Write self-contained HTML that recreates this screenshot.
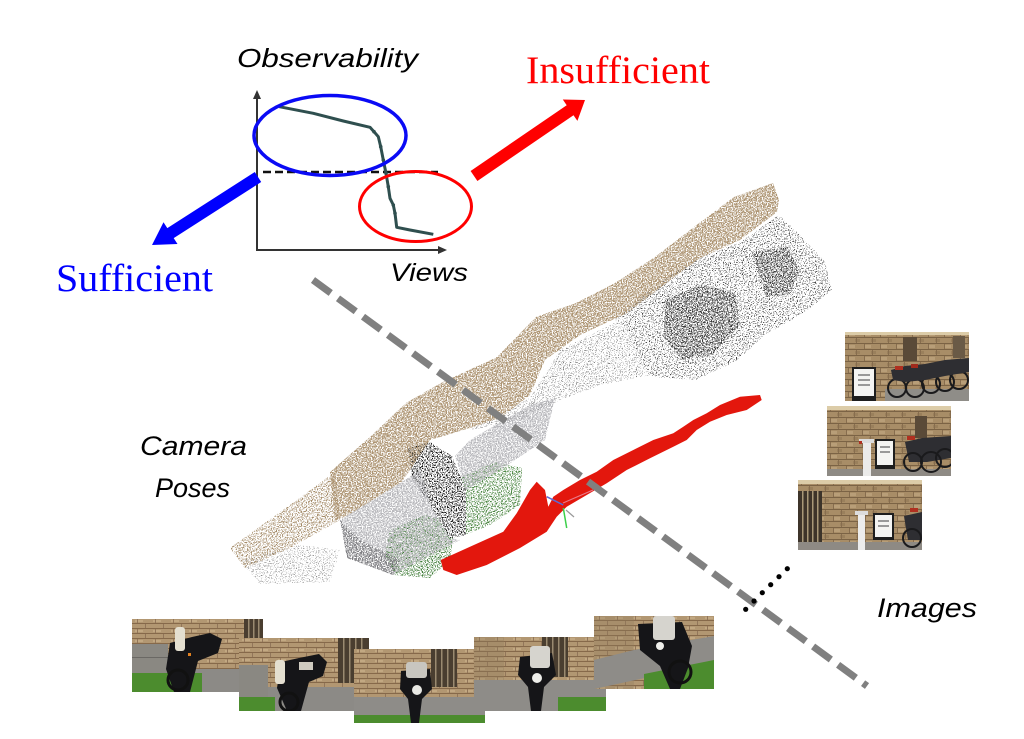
<!DOCTYPE html>
<html><head><meta charset="utf-8"><style>html,body{margin:0;padding:0;background:#fff;}svg{display:block}</style></head>
<body>
<svg width="1024" height="739" viewBox="0 0 1024 739" xmlns="http://www.w3.org/2000/svg">
<defs>
<filter id="dense" filterUnits="userSpaceOnUse" x="0" y="0" width="1024" height="739" color-interpolation-filters="sRGB">
<feTurbulence type="fractalNoise" baseFrequency="0.8" numOctaves="2" seed="4" result="n"/>
<feColorMatrix in="n" type="matrix" values="0 0 0 0 0 0 0 0 0 0 0 0 0 0 0 9 0 0 0 -3.8" result="a"/>
<feComposite in="SourceGraphic" in2="a" operator="in"/>
</filter>
<filter id="medium" filterUnits="userSpaceOnUse" x="0" y="0" width="1024" height="739" color-interpolation-filters="sRGB">
<feTurbulence type="fractalNoise" baseFrequency="0.8" numOctaves="2" seed="9" result="n"/>
<feColorMatrix in="n" type="matrix" values="0 0 0 0 0 0 0 0 0 0 0 0 0 0 0 9 0 0 0 -4.5" result="a"/>
<feComposite in="SourceGraphic" in2="a" operator="in"/>
</filter>
<filter id="sparse" filterUnits="userSpaceOnUse" x="0" y="0" width="1024" height="739" color-interpolation-filters="sRGB">
<feTurbulence type="fractalNoise" baseFrequency="0.85" numOctaves="2" seed="2" result="n"/>
<feColorMatrix in="n" type="matrix" values="0 0 0 0 0 0 0 0 0 0 0 0 0 0 0 9 0 0 0 -5.2" result="a"/>
<feComposite in="SourceGraphic" in2="a" operator="in"/>
</filter>
<pattern id="brk" width="16" height="12" patternUnits="userSpaceOnUse">
<rect width="16" height="12" fill="#a88d67"/>
<rect x="4" y="1" width="6" height="3" fill="#b89e78"/>
<rect x="10" y="7" width="5" height="3" fill="#9a805c"/>
<rect y="5" width="16" height="1" fill="#7b6345"/>
<rect y="11" width="16" height="1" fill="#7b6345"/>
<rect x="3" y="0" width="1" height="5" fill="#876d4e"/>
<rect x="11" y="6" width="1" height="5" fill="#876d4e"/>
</pattern>
<pattern id="brk2" width="18" height="10" patternUnits="userSpaceOnUse">
<rect width="18" height="10" fill="#b29772"/>
<rect x="3" y="1" width="8" height="2" fill="#c2a882"/>
<rect y="4" width="18" height="1" fill="#86694a"/>
<rect y="9" width="18" height="1" fill="#86694a"/>
<rect x="5" y="0" width="1" height="4" fill="#92765a"/>
<rect x="13" y="5" width="1" height="4" fill="#92765a"/>
</pattern>
</defs>

<!-- ===== Point cloud ===== -->
<g filter="url(#sparse)">
<polygon fill="#8a8a8a" points="240,560 300,545 340,550 330,582 260,584"/>
<polygon fill="#222" points="615,320 650,290 690,262 740,242 779,215 800,235 825,262 832,290 805,312 765,335 735,362 695,380 655,377 620,358"/>
<polygon fill="#777" points="470,430 530,398 560,350 620,320 650,375 600,385 560,400 520,420"/>
</g>
<g filter="url(#medium)">
<polygon fill="#3a3a3a" points="665,300 700,285 735,292 740,325 712,355 682,360 664,338"/>
<polygon fill="#3a3a3a" points="752,252 788,247 800,272 788,295 766,296"/>
<polygon fill="#a48b68" points="230,548 290,505 335,472 340,520 290,548 245,568"/>
<polygon fill="#3d7a35" points="390,530 425,515 455,522 450,560 430,578 395,575 385,555"/>
<polygon fill="#4a8540" points="455,480 495,462 522,468 520,505 490,525 465,535 455,515"/>
<polygon fill="#111" points="408,448 430,442 452,456 466,490 466,535 450,538 432,508 412,478"/>
</g>
<g filter="url(#dense)">
<polygon fill="#ad9472" points="330,472 370,437 406,403 441,383 497,357 536,317 576,303 615,283 655,257 694,227 734,197 773,183 779,200 777,212 740,240 700,258 677,275 627,313 580,335 545,360 530,395 500,418 470,428 430,440 410,470 387,503 335,520"/>
<polygon fill="#b8b8bc" points="340,520 405,480 420,470 432,508 450,538 460,540 393,575 347,558"/>
<polygon fill="#b8b8bc" points="455,456 470,440 530,405 555,398 545,440 500,470 466,490"/>
<polygon fill="#808084" points="340,520 347,558 393,575 400,560 360,540"/>
</g>

<!-- red trajectory -->
<polygon fill="#e3170d" points="440.7,560 443.3,570 456.7,575 486.7,565 520,548 546.7,531.7 556.7,516.7 566.7,506.7 586.7,495 606.7,483.3 626.7,470 650,458.3 673.3,446.7 686.7,440 696.7,430 710,421.7 726.7,415 746.7,410 761.7,400 760,395 740,396.7 720,405 706.7,413.3 693.3,420 683.3,426.7 673.3,433.3 653.3,440 633.3,450 613.3,460 596.7,471.7 580,480 563.3,490 553.3,496.7 548.3,506.7 545,490 536.7,481.7 530,490 516.7,513.3 503.3,531.7 470,546.7"/>
<line x1="546.7" y1="496.7" x2="563.3" y2="505" stroke="#5a6ad8" stroke-width="1.5"/>
<line x1="563.3" y1="508" x2="566.7" y2="528" stroke="#3ccf4a" stroke-width="1.5"/>
<line x1="563" y1="503" x2="593" y2="490" stroke="#e87a8a" stroke-width="1.2"/>
<line x1="566" y1="510" x2="574" y2="517" stroke="#999" stroke-width="1.2"/>

<!-- big dashed gray line -->
<line x1="313" y1="280" x2="867" y2="686" stroke="#808080" stroke-width="7" stroke-dasharray="22 9"/>
<!-- dots -->
<g fill="#000">
<circle cx="745.7" cy="609.3" r="2.6"/><circle cx="754" cy="601" r="2.6"/><circle cx="762.3" cy="592.7" r="2.6"/>
<circle cx="770.7" cy="584.7" r="2.6"/><circle cx="779" cy="576.7" r="2.6"/><circle cx="787.3" cy="568.7" r="2.6"/>
</g>

<!-- ===== Chart ===== -->
<line x1="257" y1="251" x2="257" y2="97" stroke="#333" stroke-width="2"/>
<polygon points="257,90 253,99 261,99" fill="#333"/>
<line x1="256" y1="250" x2="440" y2="250" stroke="#333" stroke-width="2"/>
<polygon points="447,250 438,246 438,254" fill="#333"/>
<line x1="263" y1="172" x2="438" y2="172" stroke="#111" stroke-width="2.5" stroke-dasharray="8 4"/>
<polyline fill="none" stroke="#2f4f4f" stroke-width="3" stroke-linejoin="round" points="279.3,106.7 313.3,113.3 343.3,121 370,127.3 374,131.7 378.3,136.7 380.7,146.7 383.3,160 386,173.3 388.3,186.7 390,198.3 393.3,205 395,213.3 396.7,227.3 410,230 433.3,234.3"/>
<g fill="#2f4f4f">
<circle cx="380.7" cy="146.7" r="1.8"/><circle cx="383.3" cy="160" r="1.8"/><circle cx="386" cy="173.3" r="1.8"/>
<circle cx="388.3" cy="186.7" r="1.8"/><circle cx="393.3" cy="205" r="1.8"/><circle cx="395" cy="213.3" r="1.8"/>
<circle cx="374" cy="131.7" r="1.8"/>
</g>
<ellipse cx="330" cy="135.5" rx="76" ry="40" fill="none" stroke="#0a0af5" stroke-width="3.5"/>
<ellipse cx="415.5" cy="206.5" rx="56" ry="35" fill="none" stroke="#ff0000" stroke-width="3"/>

<!-- arrows -->
<polygon fill="#0000ff" points="254.8,172 261.2,182 173.7,238.1 177.5,244 152,245 163.5,222.2 167.3,228.1"/>
<polygon fill="#ff0000" points="470.6,171 477.4,181 573.5,115.2 577.4,120.9 585,100 562.8,99.5 566.7,105.2"/>

<!-- texts -->
<g font-family="'Liberation Sans', sans-serif" font-style="italic" fill="#000">
<text x="237" y="67" font-size="26" textLength="181" lengthAdjust="spacingAndGlyphs">Observability</text>
<text x="390" y="281" font-size="25" textLength="78" lengthAdjust="spacingAndGlyphs">Views</text>
<text x="140" y="455" font-size="27" textLength="107" lengthAdjust="spacingAndGlyphs">Camera</text>
<text x="155" y="497" font-size="27" textLength="75" lengthAdjust="spacingAndGlyphs">Poses</text>
<text x="877" y="617" font-size="27" textLength="100" lengthAdjust="spacingAndGlyphs">Images</text>
</g>
<g font-family="'Liberation Serif', serif" font-size="39">
<text x="526" y="83" fill="#ff0000" textLength="184" lengthAdjust="spacingAndGlyphs">Insufficient</text>
<text x="56" y="291" fill="#0000ff" textLength="157" lengthAdjust="spacingAndGlyphs">Sufficient</text>
</g>

<!-- ===== Right images ===== -->
<svg x="845" y="332" width="124" height="69" viewBox="0 0 124 69">
<rect width="124" height="69" fill="url(#brk)"/>
<rect width="124" height="3" fill="#dccca8"/>
<rect x="58" y="5" width="14" height="24" fill="#5a4a38"/>
<rect x="108" y="4" width="12" height="22" fill="#6a5a46"/>
<rect x="40" y="57" width="84" height="12" fill="#8f8d88"/>
<g fill="none" stroke="#1a1a1c" stroke-width="2">
<circle cx="52" cy="56" r="9"/><circle cx="70" cy="56" r="9"/><circle cx="86" cy="52" r="9"/><circle cx="100" cy="50" r="9"/><circle cx="114" cy="48" r="9"/>
</g>
<polygon fill="#2e2e32" points="46,38 60,34 80,32 100,28 124,26 124,40 100,44 80,48 60,50 48,48"/>
<rect x="50" y="34" width="8" height="4" fill="#b03020"/><rect x="66" y="32" width="7" height="4" fill="#a02a1c"/>
<rect x="7" y="35" width="24" height="34" fill="#1e1e1e"/>
<rect x="9" y="37" width="20" height="27" fill="#f4f4f2"/>
<rect x="13" y="42" width="12" height="2" fill="#999"/><rect x="13" y="47" width="12" height="2" fill="#999"/><rect x="13" y="52" width="12" height="2" fill="#999"/>
</svg>

<svg x="827" y="406" width="124" height="70" viewBox="0 0 124 70">
<rect width="124" height="70" fill="url(#brk)"/>
<rect width="124" height="4" fill="#dccca8"/>
<rect x="88" y="10" width="12" height="22" fill="#5a4a38"/>
<rect x="0" y="63" width="124" height="7" fill="#8e8a84"/>
<rect x="36" y="35" width="8" height="35" fill="#ebebea"/>
<rect x="32" y="33" width="15" height="4" fill="#dcdcdc"/>
<rect x="32" y="35" width="3" height="3" fill="#b03020"/>
<rect x="48" y="33" width="20" height="30" fill="#1e1e1e"/>
<rect x="50" y="35" width="16" height="24" fill="#f4f4f2"/>
<rect x="53" y="40" width="10" height="2" fill="#999"/><rect x="53" y="45" width="10" height="2" fill="#999"/>
<polygon fill="#2e2e32" points="78,36 95,32 124,30 124,52 100,56 82,56"/>
<g fill="none" stroke="#1a1a1c" stroke-width="2">
<circle cx="86" cy="56" r="9"/><circle cx="104" cy="56" r="10"/><circle cx="118" cy="52" r="9"/>
</g>
<rect x="80" y="30" width="8" height="4" fill="#b03020"/>
</svg>

<svg x="798" y="480" width="124" height="70" viewBox="0 0 124 70">
<rect width="124" height="70" fill="url(#brk)"/>
<rect width="124" height="4" fill="#dccca8"/>
<rect x="0" y="11" width="24" height="52" fill="#3d342a"/>
<g fill="#a89878"><rect x="4" y="11" width="1.5" height="52"/><rect x="9" y="11" width="1.5" height="52"/><rect x="14" y="11" width="1.5" height="52"/><rect x="19" y="11" width="1.5" height="52"/></g>
<rect x="0" y="62" width="124" height="8" fill="#8e8a84"/>
<rect x="60" y="33" width="7" height="37" fill="#ececec"/>
<rect x="57" y="31" width="13" height="4" fill="#ddd"/>
<rect x="75" y="33" width="21" height="27" fill="#1e1e1e"/>
<rect x="77" y="35" width="17" height="22" fill="#f4f4f2"/>
<rect x="80" y="40" width="11" height="2" fill="#999"/><rect x="80" y="45" width="11" height="2" fill="#999"/>
<polygon fill="#2e2e32" points="106,36 124,32 124,60 110,60"/>
<circle cx="114" cy="58" r="9" fill="none" stroke="#1a1a1c" stroke-width="2"/>
<rect x="112" y="28" width="8" height="4" fill="#b03020"/>
</svg>

<!-- ===== Bottom images ===== -->
<svg x="132" y="619" width="131" height="73" viewBox="0 0 131 73">
<rect width="131" height="73" fill="url(#brk2)"/>
<rect x="112" y="0" width="19" height="20" fill="#4a3e30"/>
<g fill="#9a8a70"><rect x="116" y="0" width="1.5" height="20"/><rect x="121" y="0" width="1.5" height="20"/><rect x="126" y="0" width="1.5" height="20"/></g>
<rect x="0" y="25" width="36" height="30" fill="#8a8882"/>
<rect x="0" y="38" width="36" height="1" fill="#6a6864"/>
<rect x="40" y="50" width="91" height="23" fill="#8c8a86"/>
<rect x="0" y="54" width="70" height="19" fill="#4c8c2e"/>
<polygon fill="#151518" points="38,24 60,18 78,14 90,20 86,34 66,42 58,73 42,73 34,50"/>
<circle cx="46" cy="61" r="10" fill="none" stroke="#111" stroke-width="3"/>
<rect x="43" y="8" width="10" height="24" rx="3" fill="#e4dfd0"/>
<rect x="56" y="34" width="3" height="3" fill="#e08020"/>
</svg>

<svg x="239" y="638" width="130" height="73" viewBox="0 0 130 73">
<rect width="130" height="73" fill="url(#brk2)"/>
<rect x="99" y="0" width="31" height="45" fill="#4a3e30"/>
<g fill="#9a8a70"><rect x="104" y="0" width="1.5" height="45"/><rect x="110" y="0" width="1.5" height="45"/><rect x="116" y="0" width="1.5" height="45"/><rect x="122" y="0" width="1.5" height="45"/></g>
<rect x="0" y="27" width="29" height="32" fill="#8a8882"/>
<rect x="29" y="49" width="101" height="24" fill="#8c8a86"/>
<rect x="0" y="59" width="36" height="14" fill="#4c8c2e"/>
<polygon fill="#151518" points="42,24 60,20 80,16 88,24 84,38 70,44 62,73 48,73 38,50"/>
<circle cx="50" cy="64" r="9" fill="none" stroke="#111" stroke-width="3"/>
<rect x="36" y="22" width="10" height="24" rx="3" fill="#e4dfd0"/>
<rect x="60" y="24" width="14" height="8" fill="#cfcac0"/>
</svg>

<svg x="354" y="649" width="131" height="74" viewBox="0 0 131 74">
<rect width="131" height="74" fill="url(#brk2)"/>
<rect x="77" y="0" width="26" height="38" fill="#4a3e30"/>
<g fill="#9a8a70"><rect x="81" y="0" width="1.5" height="38"/><rect x="87" y="0" width="1.5" height="38"/><rect x="93" y="0" width="1.5" height="38"/><rect x="99" y="0" width="1.5" height="38"/></g>
<rect x="0" y="48" width="131" height="18" fill="#8e8c88"/>
<rect x="0" y="66" width="131" height="8" fill="#4c8c2e"/>
<polygon fill="#151518" points="47,22 76,20 78,40 68,50 65,74 57,74 54,50 46,40"/>
<rect x="52" y="13" width="21" height="16" rx="3" fill="#c8c6c0"/>
<circle cx="63" cy="41" r="5" fill="#e8e8e4"/>
</svg>

<svg x="474" y="637" width="132" height="74" viewBox="0 0 132 74">
<rect width="132" height="74" fill="url(#brk2)"/>
<rect x="0" y="0" width="30" height="74" fill="#8f7a5c" opacity="0.35"/>
<rect x="68" y="0" width="26" height="40" fill="#4a3e30"/>
<g fill="#9a8a70"><rect x="72" y="0" width="1.5" height="40"/><rect x="78" y="0" width="1.5" height="40"/><rect x="84" y="0" width="1.5" height="40"/><rect x="90" y="0" width="1.5" height="40"/></g>
<rect x="0" y="43" width="132" height="31" fill="#8e8c88"/>
<rect x="84" y="60" width="48" height="14" fill="#4c8c2e"/>
<polygon fill="#151518" points="46,20 78,16 82,38 70,50 67,74 57,74 54,50 44,38"/>
<rect x="56" y="9" width="20" height="22" rx="3" fill="#d6d4ce"/>
<circle cx="63" cy="41" r="5" fill="#eeeeea"/>
</svg>

<svg x="594" y="616" width="120" height="73" viewBox="0 0 120 73">
<rect width="120" height="73" fill="url(#brk2)"/>
<rect x="0" y="0" width="40" height="73" fill="#8f7a5c" opacity="0.3"/>
<polygon fill="#8e8c88" points="0,44 40,34 120,20 120,50 60,60 0,73"/>
<polygon fill="#4c8c2e" points="50,58 120,44 120,73 50,73"/>
<polygon fill="#151518" points="44,8 88,6 98,30 94,52 86,73 76,73 66,50 46,34"/>
<circle cx="86" cy="56" r="11" fill="none" stroke="#111" stroke-width="3"/>
<rect x="59" y="0" width="22" height="24" rx="3" fill="#d6d4ce"/>
<circle cx="66" cy="30" r="4" fill="#eeeeea"/>
</svg>

</svg>
</body></html>
